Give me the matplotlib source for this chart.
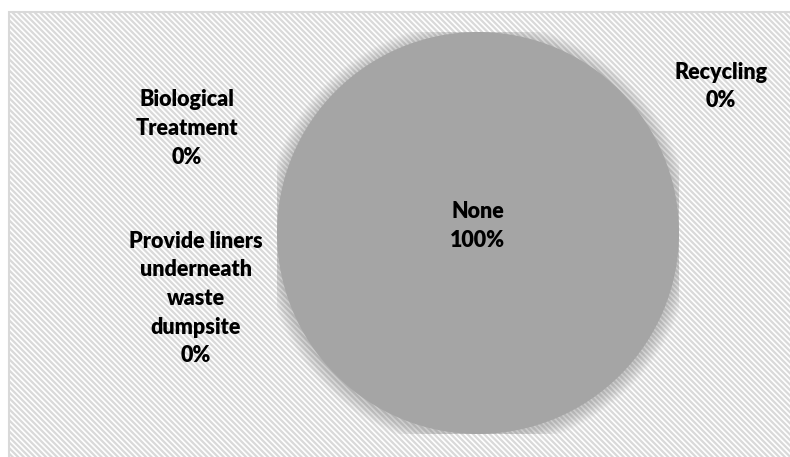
import matplotlib.pyplot as plt
import matplotlib.patches as mpatches

# Répartition des mesures de traitement des déchets
categories = ["Recycling", "Biological\nTreatment", "Provide liners\nunderneath\nwaste\ndumpsite", "None"]
shares = [0, 0, 0, 100]
label_xy = [(0.913, 0.189), (0.237, 0.281), (0.248, 0.653), (0.605, 0.495)]

plt.rcParams["font.family"] = ["Lato", "DejaVu Sans"]
plt.rcParams["hatch.linewidth"] = 1.6
plt.rcParams["hatch.color"] = "#F0F0F0"

W, H = 790, 457
fig = plt.figure(figsize=(W / 100, H / 100), dpi=100)

# fond hachuré avec cadre gris clair
bg = fig.add_axes([0, 0, 1, 1])
bg.set_xlim(0, W)
bg.set_ylim(H, 0)
bg.axis("off")
bg.add_patch(mpatches.Rectangle((8.5, 11.5), W + 10, H + 10, facecolor="white",
                                edgecolor="#D9D9D9", linewidth=1.5,
                                hatch="\\\\\\\\\\\\", zorder=0))

# camembert
cx, cy, r = 478, 233, 201
ax = fig.add_axes([(cx - r) / W, 1 - (cy + r) / H, 2 * r / W, 2 * r / H])
ax.axis("off")

# ombre douce autour du disque
for i in range(14):
    rr = 1.0 + (14 - i) * 0.005
    ax.add_patch(mpatches.Circle((0, -0.012), rr, facecolor="#7F7F7F",
                                 edgecolor="none", alpha=0.03, zorder=1))

ax.pie(shares, colors=["#A5A5A5"] * 4, startangle=90, counterclock=False,
       radius=1.0, wedgeprops=dict(linewidth=0, zorder=2))
ax.set_xlim(-1, 1)
ax.set_ylim(-1, 1)
ax.set_aspect("auto")

for name, val, (x, y) in zip(categories, shares, label_xy):
    fig.text(x, 1 - y, f"{name}\n{val}%", ha="center", va="center",
             fontsize=15.5, fontweight="heavy", color="black",
             linespacing=1.45, zorder=10)

fig.savefig("out.png", dpi=100)
